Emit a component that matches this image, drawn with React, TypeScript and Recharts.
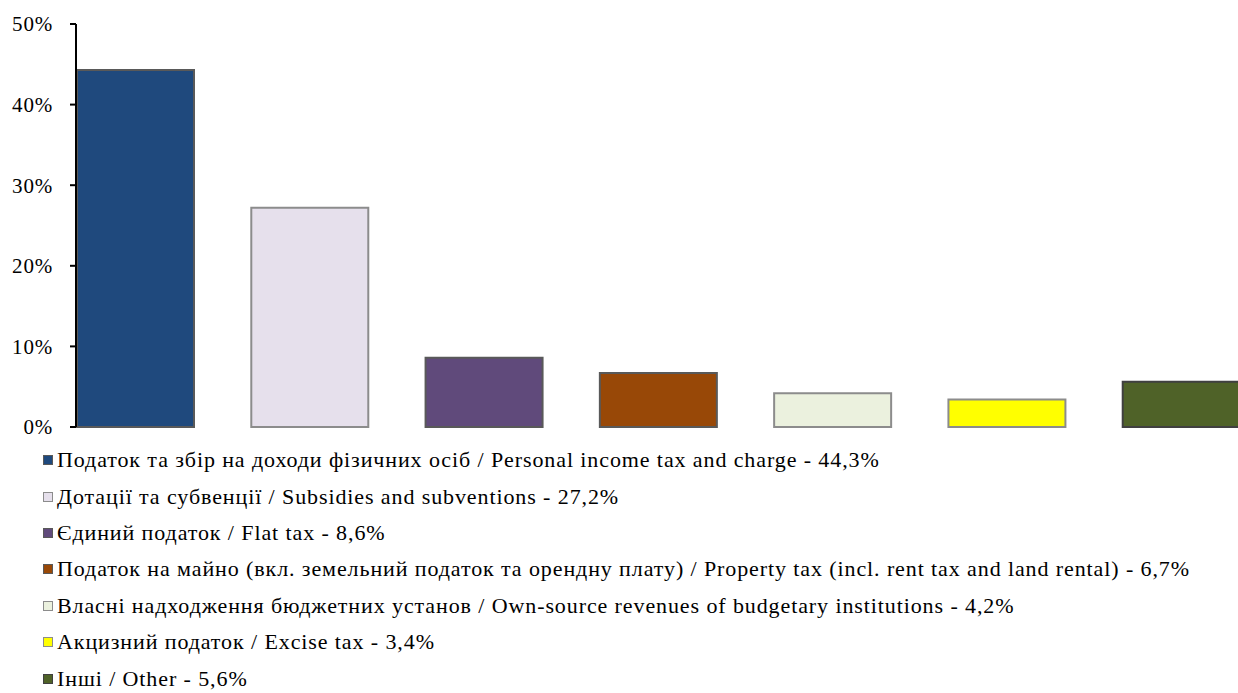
import React from "react";
import { Bar, BarChart, Cell, XAxis, YAxis } from "recharts";

const categories = [
  "Податок та збір на доходи фізичних осіб / Personal income tax and charge",
  "Дотації та субвенції / Subsidies and subventions",
  "Єдиний податок / Flat tax",
  "Податок на майно (вкл. земельний податок та орендну плату) / Property tax (incl. rent tax and land rental)",
  "Власні надходження бюджетних установ / Own-source revenues of budgetary institutions",
  "Акцизний податок / Excise tax",
  "Інші / Other",
];

const shares = [44.3, 27.2, 8.6, 6.7, 4.2, 3.4, 5.6];

const fills = ["#1F497D", "#E6E0EC", "#604A7B", "#984807", "#EBF1DE", "#FFFF00", "#4F6228"];
const strokes = ["#595959", "#8C8C8C", "#595959", "#595959", "#8C8C8C", "#8C8C8C", "#404040"];

const yTicks = [0, 10, 20, 30, 40, 50];

const data = categories.map((name, i) => ({ name, value: shares[i] }));

const fmt = (v: number) => v.toFixed(1).replace(".", ",");

const font = "'Liberation Serif', 'Times New Roman', serif";

const App = () => {
  return (
    <div
      style={{
        position: "absolute",
        left: 0,
        top: 0,
        width: 1238,
        height: 693,
        overflow: "hidden",
        background: "#fff",
        fontFamily: font,
      }}
    >
      <BarChart
        width={1268}
        height={440}
        data={data}
        margin={{ top: 24, right: 0, left: 0, bottom: 13 }}
      >
        <XAxis dataKey="name" hide padding={{ left: -28, right: 0 }} />
        <YAxis
          width={76}
          domain={[0, 50]}
          ticks={yTicks}
          tickFormatter={(v) => `${v}%`}
          axisLine={{ stroke: "#000", strokeWidth: 2 }}
          tickLine={{ stroke: "#000", strokeWidth: 2 }}
          tickSize={6}
          tickMargin={17}
          tick={{ fill: "#000", fontSize: 21, fontFamily: font, letterSpacing: 0.8 }}
        />
        <Bar dataKey="value" barSize={117} isAnimationActive={false} strokeWidth={2}>
          {data.map((d, i) => (
            <Cell key={d.name} fill={fills[i]} stroke={strokes[i]} />
          ))}
        </Bar>
      </BarChart>
      <div style={{ position: "absolute", left: 43, top: 442 }}>
        {categories.map((c, i) => (
          <div
            key={c}
            style={{
              height: 36.4,
              fontSize: 22,
              letterSpacing: 0.9,
              color: "#000",
              whiteSpace: "nowrap",
              display: "flex",
              alignItems: "center",
            }}
          >
            <span
              style={{
                display: "inline-block",
                width: 8,
                height: 8,
                background: fills[i],
                border: `1.5px solid ${strokes[i]}`,
                marginRight: 4,
              }}
            />
            <span>{`${c} - ${fmt(shares[i])}%`}</span>
          </div>
        ))}
      </div>
    </div>
  );
};

export default App;
